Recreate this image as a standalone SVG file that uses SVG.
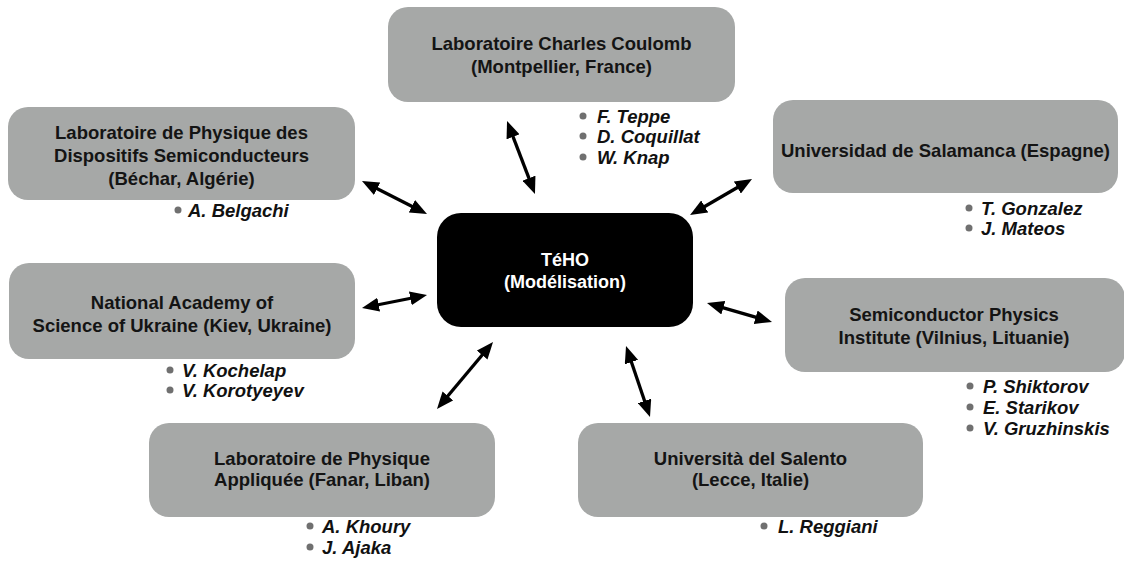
<svg xmlns="http://www.w3.org/2000/svg" width="1124" height="563" viewBox="0 0 1124 563">
<style>
.box{fill:#a6a8a7;}
.core{fill:#000;}
.t{font-family:"Liberation Sans",Arial,sans-serif;font-weight:bold;font-size:18.5px;fill:#141414;text-anchor:middle;}
.tc{font-family:"Liberation Sans",Arial,sans-serif;font-weight:bold;font-size:18px;fill:#fff;text-anchor:middle;}
.p{font-family:"Liberation Sans",Arial,sans-serif;font-weight:bold;font-style:italic;font-size:18.5px;fill:#111;}
.b{fill:#707070;}
.c{stroke:#000;stroke-width:3.3;fill:none;marker-start:url(#ah);marker-end:url(#ah);}
</style>
<defs>
<marker id="ah" viewBox="0 0 17 14" refX="7" refY="7" markerWidth="17" markerHeight="14" markerUnits="userSpaceOnUse" orient="auto-start-reverse">
<path d="M0,0 L17,7 L0,14 z" fill="#000"/>
</marker>
</defs>
<rect width="1124" height="563" fill="#fff"/>

<g id="connectors">
<line class="c" x1="510.6" y1="130.3" x2="531.4" y2="184.7"/>
<line class="c" x1="370.9" y1="185.5" x2="418.1" y2="209.5"/>
<line class="c" x1="743.4" y1="184.0" x2="698.7" y2="210.0"/>
<line class="c" x1="371.8" y1="306.0" x2="417.2" y2="297.0"/>
<line class="c" x1="716.6" y1="305.8" x2="762.4" y2="319.2"/>
<line class="c" x1="443.4" y1="401.3" x2="486.6" y2="349.7"/>
<line class="c" x1="629.2" y1="355.5" x2="646.8" y2="407.5"/>
</g>

<g id="teho">
<rect class="core" x="437" y="213" width="256" height="114" rx="24"/>
<text class="tc" x="565" y="266">TéHO</text>
<text class="tc" x="565" y="288">(Modélisation)</text>
</g>

<g id="coulomb">
<rect class="box" x="388" y="7" width="347" height="95" rx="20"/>
<text class="t" x="561.5" y="50">Laboratoire Charles Coulomb</text>
<text class="t" x="561.5" y="73">(Montpellier, France)</text>
<circle class="b" cx="583" cy="116" r="3.5"/>
<text class="p" x="597" y="123">F. Teppe</text>
<circle class="b" cx="583" cy="136" r="3.5"/>
<text class="p" x="597" y="143">D. Coquillat</text>
<circle class="b" cx="583" cy="157" r="3.5"/>
<text class="p" x="597" y="164">W. Knap</text>
</g>

<g id="bechar">
<rect class="box" x="8" y="107" width="347" height="93" rx="20"/>
<text class="t" x="181.5" y="139">Laboratoire de Physique des</text>
<text class="t" x="181.5" y="162">Dispositifs Semiconducteurs</text>
<text class="t" x="181.5" y="185">(Béchar, Algérie)</text>
<circle class="b" cx="178" cy="210" r="3.5"/>
<text class="p" x="188" y="217">A. Belgachi</text>
</g>

<g id="salamanca">
<rect class="box" x="773" y="100" width="345" height="93" rx="20"/>
<text class="t" x="945.5" y="157">Universidad de Salamanca (Espagne)</text>
<circle class="b" cx="969" cy="208" r="3.5"/>
<text class="p" x="981" y="215">T. Gonzalez</text>
<circle class="b" cx="969" cy="228" r="3.5"/>
<text class="p" x="981" y="235">J. Mateos</text>
</g>

<g id="kiev">
<rect class="box" x="9" y="263" width="346" height="96" rx="20"/>
<text class="t" x="182" y="309">National Academy of</text>
<text class="t" x="182" y="332">Science of Ukraine (Kiev, Ukraine)</text>
<circle class="b" cx="170" cy="370" r="3.5"/>
<text class="p" x="182" y="377">V. Kochelap</text>
<circle class="b" cx="170" cy="390" r="3.5"/>
<text class="p" x="182" y="397">V. Korotyeyev</text>
</g>

<g id="vilnius">
<rect class="box" x="785" y="278" width="340" height="94" rx="20"/>
<text class="t" x="954" y="321">Semiconductor Physics</text>
<text class="t" x="954" y="344">Institute (Vilnius, Lituanie)</text>
<circle class="b" cx="970" cy="386" r="3.5"/>
<text class="p" x="983" y="393">P. Shiktorov</text>
<circle class="b" cx="970" cy="407" r="3.5"/>
<text class="p" x="983" y="414">E. Starikov</text>
<circle class="b" cx="970" cy="428" r="3.5"/>
<text class="p" x="983" y="435">V. Gruzhinskis</text>
</g>

<g id="fanar">
<rect class="box" x="149" y="423" width="346" height="94" rx="20"/>
<text class="t" x="322" y="465">Laboratoire de Physique</text>
<text class="t" x="322" y="486">Appliquée (Fanar, Liban)</text>
<circle class="b" cx="310" cy="526" r="3.5"/>
<text class="p" x="322" y="533">A. Khoury</text>
<circle class="b" cx="310" cy="547" r="3.5"/>
<text class="p" x="322" y="554">J. Ajaka</text>
</g>

<g id="lecce">
<rect class="box" x="578" y="423" width="345" height="94" rx="20"/>
<text class="t" x="750.5" y="465">Università del Salento</text>
<text class="t" x="750.5" y="486">(Lecce, Italie)</text>
<circle class="b" cx="764" cy="526" r="3.5"/>
<text class="p" x="778" y="533">L. Reggiani</text>
</g>
</svg>
